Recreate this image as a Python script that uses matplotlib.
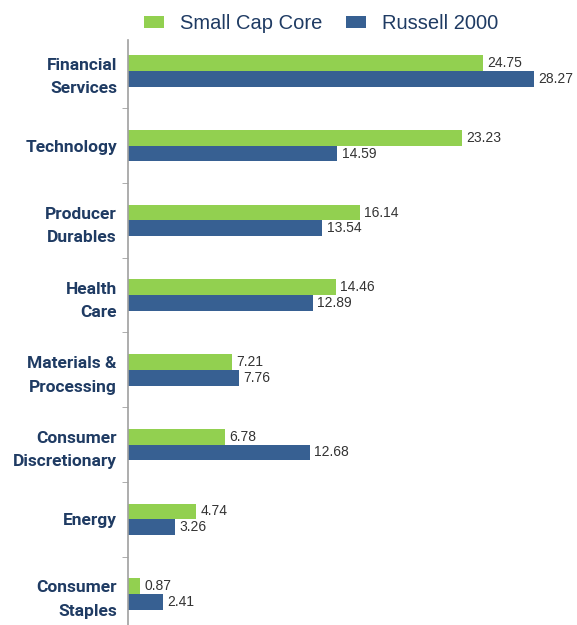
import matplotlib.pyplot as plt
import numpy as np

categories = ["Financial\nServices", "Technology", "Producer\nDurables", "Health\nCare",
              "Materials &\nProcessing", "Consumer\nDiscretionary", "Energy", "Consumer\nStaples"]
small_cap = [24.75, 23.23, 16.14, 14.46, 7.21, 6.78, 4.74, 0.87]
russell = [28.27, 14.59, 13.54, 12.89, 7.76, 12.68, 3.26, 2.41]
series_names = ["Small Cap Core", "Russell 2000"]

green = "#92D050"
blue = "#376092"
navy = "#1F3B63"

plt.rcParams['font.family'] = ['Liberation Sans', 'DejaVu Sans']

fig = plt.figure(figsize=(5.77, 6.25), dpi=100)
ax = fig.add_axes([128 / 577, 0, 1 - 128 / 577, 1 - 40 / 625])

y = np.arange(len(categories))
h = 0.21
b1 = ax.barh(y - h / 2, small_cap, height=h, color=green, label=series_names[0])
b2 = ax.barh(y + h / 2, russell, height=h, color=blue, label=series_names[1])

for bars, vals in ((b1, small_cap), (b2, russell)):
    for bar, v in zip(bars, vals):
        ax.text(bar.get_width() + 0.3, bar.get_y() + bar.get_height() / 2, f"{v:.2f}",
                va="center", ha="left", fontsize=10, color="#333333")

ax.set_xlim(0, 31.27)
ax.set_ylim(len(categories) - 1 + 0.415, -0.415)
ax.set_yticks(y)
ax.set_yticklabels(categories, fontsize=12.5, fontweight="bold", color=navy, linespacing=1.7,
                   family=['Roboto', 'Liberation Sans'])
ax.tick_params(axis="y", which="major", length=0, pad=8)
ax.set_yticks(np.arange(len(categories) - 1) + 0.5, minor=True)
ax.tick_params(axis="y", which="minor", length=4, color="#A0A0A0", direction="out")
ax.xaxis.set_visible(False)
for s in ("top", "right", "bottom"):
    ax.spines[s].set_visible(False)
ax.spines["left"].set_color("#A0A0A0")
ax.spines["left"].set_linewidth(1.2)

fig.legend(handles=[b1, b2], labels=series_names, loc="center", bbox_to_anchor=(0.557, 0.962),
           ncol=2, frameon=False, fontsize=14.5, handlelength=1.0, handleheight=0.5,
           columnspacing=1.15, handletextpad=0.8, labelcolor=navy)

fig.savefig("out.png", dpi=100)
